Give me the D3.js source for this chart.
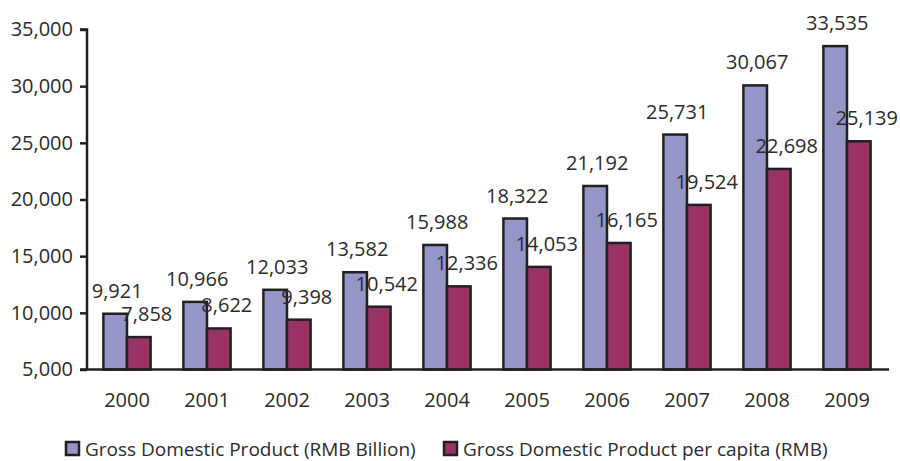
<!DOCTYPE html>
<html>
<head>
<meta charset="utf-8">
<script src="https://cdn.jsdelivr.net/npm/d3@7"></script>
<style>
  html, body { margin: 0; padding: 0; background: #fff; }
  text { font-family: "Open Sans", "DejaVu Sans", sans-serif; fill: #2b2b2b; }
</style>
</head>
<body>
<svg id="chart" width="900" height="461"></svg>
<script>
const years = ["2000","2001","2002","2003","2004","2005","2006","2007","2008","2009"];
const gdp = [9921, 10966, 12033, 13582, 15988, 18322, 21192, 25731, 30067, 33535];
const gdpPerCapita = [7858, 8622, 9398, 10542, 12336, 14053, 16165, 19524, 22698, 25139];
const seriesNames = ["Gross Domestic Product (RMB Billion)", "Gross Domestic Product per capita (RMB)"];
const yTicks = [5000, 10000, 15000, 20000, 25000, 30000, 35000];

(function () {
const colors = ["#9595c8", "#993366"];
const stroke = "#231f20";
const fmt = d3.format(",");

const svg = d3.select("#chart");
const mLeft = 87, mRight = 887, mTop = 29.5, mBottom = 369.5;

const x = d3.scaleBand().domain(years).range([mLeft, mRight]).paddingInner(0.41).paddingOuter(0.205);
const inner = d3.scaleBand().domain([0, 1]).range([0, x.bandwidth()]);
const y = d3.scaleLinear().domain([5000, 35000]).range([mBottom, mTop]);

// y axis
const yAxis = svg.append("g").attr("transform", `translate(${mLeft},0)`)
  .call(d3.axisLeft(y).tickValues(yTicks).tickFormat(fmt).tickSize(7).tickPadding(7));
yAxis.select(".domain").attr("stroke", stroke).attr("stroke-width", 2.5).attr("d", `M-7,${mTop}H0V${mBottom}`);
yAxis.selectAll(".tick line").attr("stroke", stroke).attr("stroke-width", 2.5);
yAxis.selectAll(".tick text").style("font-size", "20px").attr("fill", "#2b2b2b")
  .style("font-family", "'Open Sans', 'DejaVu Sans', sans-serif");

// bars
const data = years.map((yr, i) => ({ yr, vals: [gdp[i], gdpPerCapita[i]] }));
const groups = svg.append("g").selectAll("g").data(data).join("g")
  .attr("transform", d => `translate(${x(d.yr)},0)`);

groups.selectAll("rect").data(d => d.vals.map((v, k) => ({ v, k }))).join("rect")
  .attr("x", d => inner(d.k))
  .attr("width", inner.bandwidth())
  .attr("y", d => y(d.v))
  .attr("height", d => mBottom - y(d.v))
  .attr("fill", d => colors[d.k])
  .attr("stroke", stroke)
  .attr("stroke-width", 2.5);

const labelShift = [2, 8];
groups.selectAll("text.val").data(d => d.vals.map((v, k) => ({ v, k }))).join("text")
  .attr("class", "val")
  .attr("x", d => inner(d.k) + inner.bandwidth() / 2 + labelShift[d.k])
  .attr("y", d => y(d.v) - 16)
  .attr("text-anchor", "middle")
  .style("font-size", "20px")
  .text(d => fmt(d.v));

// x axis baseline
svg.append("line").attr("x1", mLeft - 7).attr("x2", mRight + 2).attr("y1", mBottom).attr("y2", mBottom)
  .attr("stroke", stroke).attr("stroke-width", 2.5);

svg.append("g").selectAll("text").data(years).join("text")
  .attr("x", d => x(d) + x.bandwidth() / 2)
  .attr("y", 407)
  .attr("text-anchor", "middle")
  .style("font-size", "20px")
  .text(d => d);

// legend
const legendX = [65, 443];
const lg = svg.append("g").selectAll("g").data(seriesNames).join("g")
  .attr("transform", (d, i) => `translate(${legendX[i]},441)`);
lg.append("rect").attr("x", 1).attr("y", 1).attr("width", 13).attr("height", 13)
  .attr("fill", (d, i) => colors[i]).attr("stroke", stroke).attr("stroke-width", 2.5);
lg.append("text").attr("x", 20).attr("y", 14.5).style("font-size", "19px").text(d => d);
})();
</script>
</body>
</html>
